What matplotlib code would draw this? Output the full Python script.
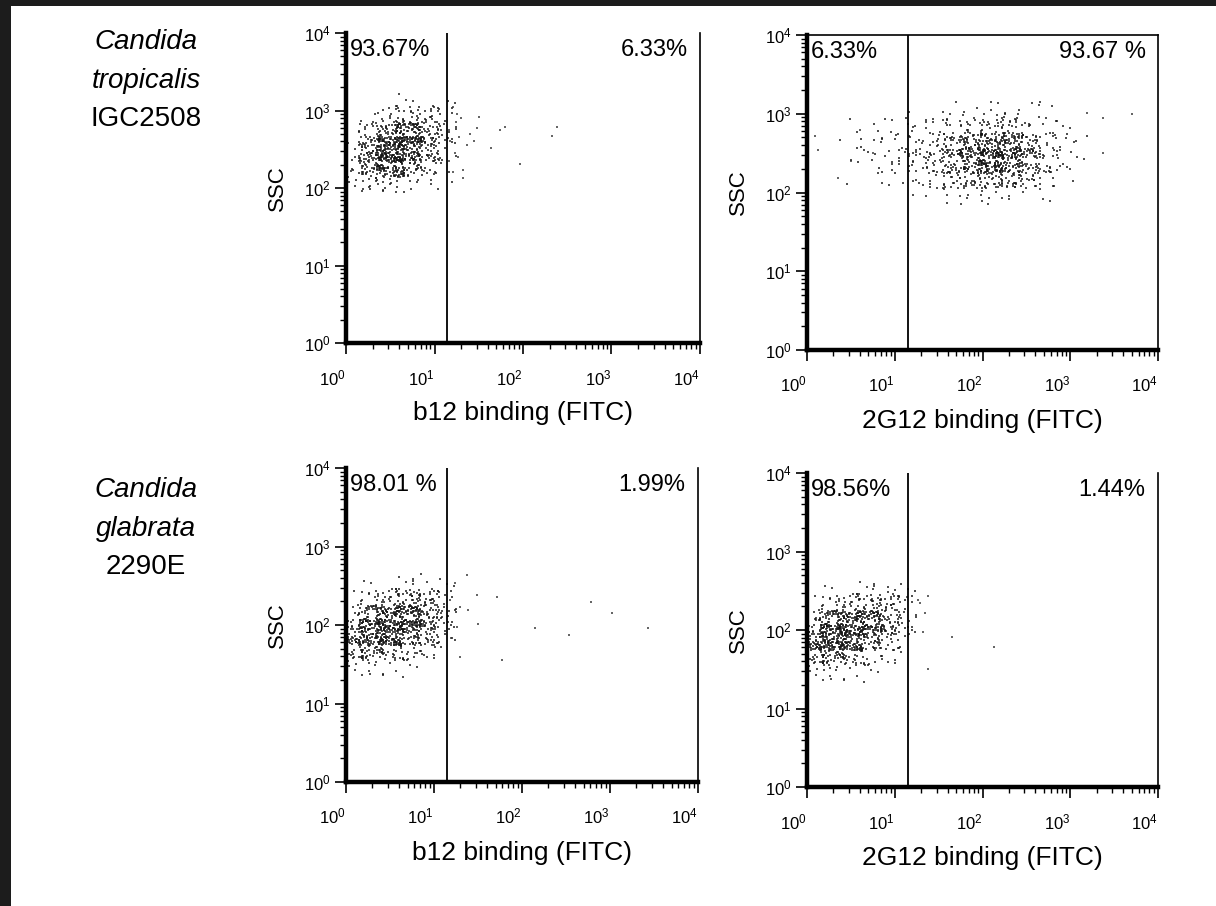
import numpy as np
import matplotlib
matplotlib.use('Agg')
import matplotlib.pyplot as plt
from matplotlib.patches import Rectangle
from matplotlib.ticker import LogLocator, NullFormatter

plt.rcParams['font.family'] = ['Liberation Sans', 'DejaVu Sans']
plt.rcParams['mathtext.fontset'] = 'custom'
plt.rcParams['mathtext.rm'] = 'Liberation Sans'
plt.rcParams['mathtext.it'] = 'Liberation Sans:italic'

# gate on the FITC axis separating negative / positive events
gate = 14

decades = [1, 10, 100, 1000, 10000]
tick_labels = [r'$10^0$', r'$10^1$', r'$10^2$', r'$10^3$', r'$10^4$']

species = [['Candida', 'tropicalis', 'IGC2508'],
           ['Candida', 'glabrata', '2290E']]
x_labels = ['b12 binding (FITC)', '2G12 binding (FITC)',
            'b12 binding (FITC)', '2G12 binding (FITC)']
pct_left = ['93.67%', '6.33%', '98.01 %', '98.56%']
pct_right = ['6.33%', '93.67 %', '1.99%', '1.44%']
top_frame = [False, True, False, False]

# event counts per 0.2-decade cell, rows go up in SSC, columns go right in FITC
trop_b12_start = (0.0, 2.0)
trop_b12_counts = [
    [8, 18, 16, 8, 5, 2],
    [13, 55, 75, 45, 18, 5],
    [6, 50, 105, 85, 35, 8],
    [2, 18, 60, 78, 45, 10],
    [0, 3, 14, 24, 20, 8],
    [0, 0, 2, 3, 3, 2],
]
trop_2g12_start = (0.4, 1.9)
trop_2g12_counts = [
    [0, 0, 0, 1, 2, 2, 3, 6, 8, 6, 3, 2, 0, 0, 0],
    [1, 1, 2, 4, 6, 9, 20, 30, 36, 33, 20, 8, 3, 1, 0],
    [2, 4, 5, 7, 9, 18, 35, 55, 68, 64, 36, 13, 6, 2, 0],
    [2, 4, 5, 6, 9, 16, 30, 48, 60, 60, 33, 13, 6, 2, 0],
    [1, 2, 2, 4, 5, 8, 10, 14, 20, 20, 13, 6, 3, 1, 0],
    [0, 0, 1, 1, 2, 2, 3, 5, 6, 6, 5, 2, 1, 0, 0],
]
glab_b12_start = (0.0, 1.4)
glab_b12_counts = [
    [10, 10, 6, 3, 2, 0],
    [38, 42, 30, 18, 10, 3],
    [45, 75, 85, 58, 32, 10],
    [22, 50, 75, 80, 52, 16],
    [5, 12, 24, 36, 30, 11],
    [0, 2, 3, 8, 6, 3],
]
glab_2g12_start = (0.0, 1.4)
glab_2g12_counts = [
    [11, 11, 6, 2, 0, 0],
    [42, 50, 30, 14, 6, 2],
    [60, 90, 75, 45, 22, 6],
    [28, 62, 82, 68, 42, 11],
    [5, 12, 24, 32, 24, 10],
    [0, 2, 3, 6, 8, 3],
]

# sparse events outside the main clusters (FITC, SSC)
trop_b12_out_fitc = [32, 55, 63, 43, 93, 214, 240, 30, 21, 21, 23, 16, 18, 15, 17,
                     19, 14.5, 25, 17.4, 16, 28, 20, 14.5, 18.6]
trop_b12_out_ssc = [830, 560, 616, 330, 205, 470, 620, 590, 170, 135, 355, 1120, 890,
                    400, 280, 450, 225, 500, 710, 160, 400, 790, 560, 250]
trop_2g12_out_fitc = [1.23, 1.35, 5000, 2340, 1550, 2340, 2.24, 4, 3.2, 5.6]
trop_2g12_out_ssc = [525, 347, 1000, 890, 1020, 316, 151, 630, 250, 316]
glab_b12_out_fitc = [23.7, 17.4, 30.9, 52.5, 24.5, 18.2, 31.6, 15.8, 20, 59, 603,
                     1047, 2690, 141, 339, 15.1, 20]
glab_b12_out_ssc = [437, 347, 240, 229, 155, 95.5, 102, 69, 39, 35.5, 195, 141, 91,
                    91, 74, 209, 170]
glab_2g12_out_fitc = [13.8, 18.2, 24, 19.5, 21.9, 20.9, 44.7, 135, 24]
glab_2g12_out_ssc = [263, 240, 269, 219, 166, 93, 81, 60, 32]

panels = [
    (trop_b12_start, trop_b12_counts, trop_b12_out_fitc, trop_b12_out_ssc),
    (trop_2g12_start, trop_2g12_counts, trop_2g12_out_fitc, trop_2g12_out_ssc),
    (glab_b12_start, glab_b12_counts, glab_b12_out_fitc, glab_b12_out_ssc),
    (glab_2g12_start, glab_2g12_counts, glab_2g12_out_fitc, glab_2g12_out_ssc),
]


def cell_events(start, counts, step=0.2):
    """Spread each cell's events over the cell (linear/quadratic Weyl pattern)."""
    a1, a2 = 0.7548776662, 0.5698402910
    xs, ys = [], []
    for i, row in enumerate(counts):
        for j, n in enumerate(row):
            k = np.arange(n, dtype=float)
            u = (0.37 * i + 0.61 * j + k * a1) % 1
            v = (0.23 * i + 0.47 * j + 0.5 * k + k * k * a2) % 1
            # cells overlap a bit so neighbouring blocks blend together
            xs.append(start[0] + step * (j - 0.3 + 1.6 * u))
            ys.append(start[1] + step * (i - 0.3 + 1.6 * v))
    return 10 ** np.concatenate(xs), 10 ** np.concatenate(ys)


fig = plt.figure(figsize=(12.16, 9.06), dpi=100)
fig.patch.set_facecolor('#1c1c1c')
fig.add_artist(Rectangle((11 / 1216, 0), 1 - 11 / 1216, 1 - 6 / 906,
                         transform=fig.transFigure, facecolor='white',
                         edgecolor='none', zorder=-1))

boxes = [
    [346 / 1216, 1 - 343 / 906, 354 / 1216, 310 / 906],
    [807 / 1216, 1 - 350 / 906, 351 / 1216, 315 / 906],
    [346 / 1216, 1 - 782 / 906, 352 / 1216, 314 / 906],
    [807 / 1216, 1 - 787 / 906, 351 / 1216, 314 / 906],
]

for idx, (box, (start, counts, out_x, out_y)) in enumerate(zip(boxes, panels)):
    ax = fig.add_axes(box)
    ax.set_xscale('log')
    ax.set_yscale('log')

    ex, ey = cell_events(start, counts)
    ax.scatter(ex, ey, s=3.0, marker='s', color='#151515', alpha=0.75,
               linewidths=0, zorder=2)
    ax.scatter(out_x, out_y, s=3.0, marker='s', color='#333333', alpha=0.75,
               linewidths=0, zorder=2)

    ax.axvline(gate, color='black', linewidth=1.3, zorder=3)

    ax.set_xlim(1, 1e4)
    ax.set_ylim(1, 1e4)
    ax.set_xticks(decades)
    ax.set_xticklabels(tick_labels, ha='right')
    ax.set_yticks(decades)
    ax.set_yticklabels(tick_labels)
    for axis in (ax.xaxis, ax.yaxis):
        axis.set_minor_locator(LogLocator(base=10, subs=np.arange(2, 10)))
        axis.set_minor_formatter(NullFormatter())
    ax.tick_params(axis='x', which='major', direction='out', length=8,
                   width=1.2, pad=10, labelsize=12)
    ax.tick_params(axis='y', which='major', direction='out', length=8,
                   width=1.2, pad=3, labelsize=12)
    ax.tick_params(which='minor', direction='out', length=4.5, width=1.0)

    ax.spines['left'].set_linewidth(3.2)
    ax.spines['bottom'].set_linewidth(3.2)
    ax.spines['right'].set_linewidth(1.2)
    ax.spines['top'].set_linewidth(1.2)
    ax.spines['top'].set_visible(top_frame[idx])

    ax.text(0.012, 0.945, pct_left[idx], transform=ax.transAxes,
            ha='left', va='center', fontsize=17)
    ax.text(0.965, 0.945, pct_right[idx], transform=ax.transAxes,
            ha='right', va='center', fontsize=17)

    ax.text(-0.195, 0.5, 'SSC', transform=ax.transAxes, rotation=90,
            ha='center', va='center', fontsize=16)
    ax.text(0.5, -0.225, x_labels[idx], transform=ax.transAxes,
            ha='center', va='center', fontsize=19)

# strain names beside each row
for row, names in enumerate(species):
    y0 = [42, 490][row]
    for line, name in enumerate(names):
        fig.text(146 / 1216, 1 - (y0 + 38.5 * line) / 906, name,
                 ha='center', va='center', fontsize=20,
                 style='italic' if line < 2 else 'normal')

fig.savefig('out.png', dpi=100, facecolor=fig.get_facecolor())
